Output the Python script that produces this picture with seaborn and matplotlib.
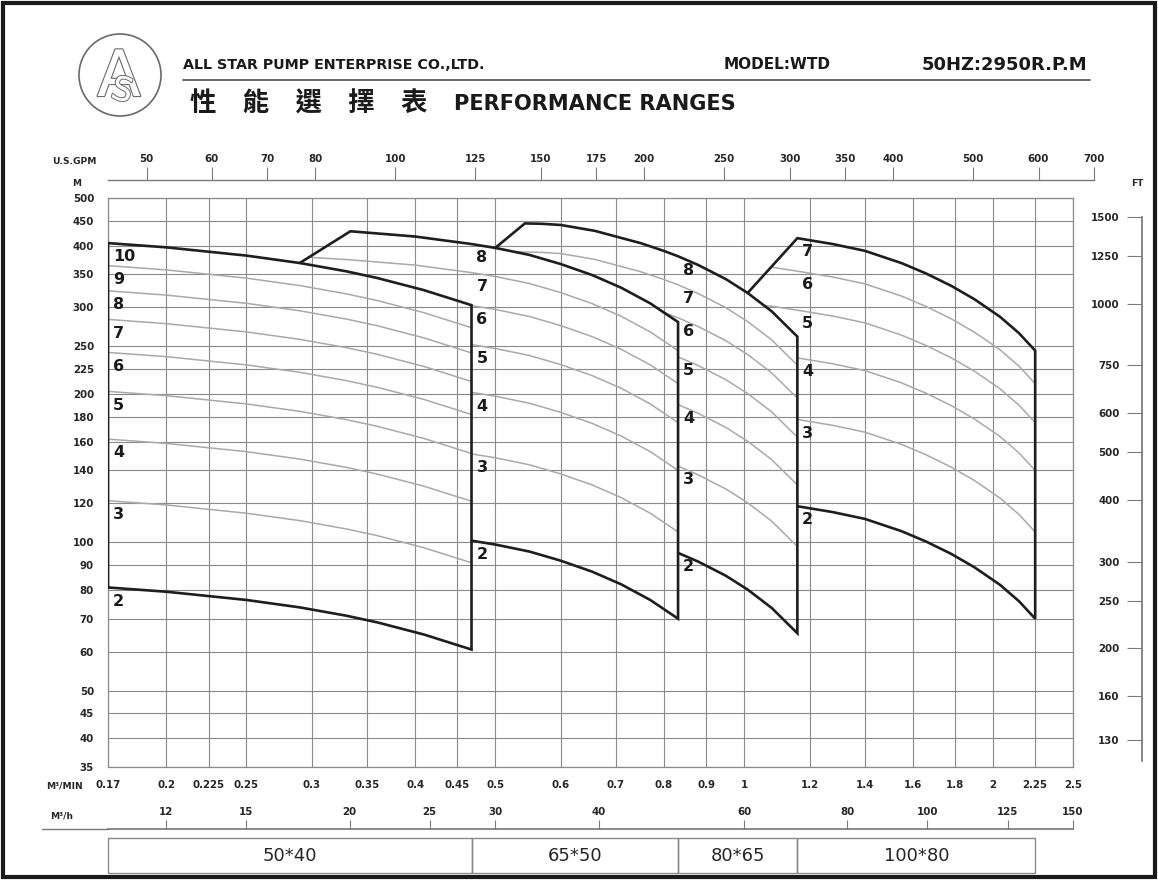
import numpy as np
import pandas as pd
import matplotlib
matplotlib.use("Agg")
import matplotlib.pyplot as plt
import seaborn as sns
from matplotlib.patches import Polygon, Rectangle, Circle
from matplotlib.lines import Line2D
from matplotlib.ticker import FixedLocator, FixedFormatter, NullLocator
from matplotlib.transforms import blended_transform_factory
import matplotlib.patheffects as pe

# ---------------- data ----------------
flow_ticks = [0.17, 0.2, 0.225, 0.25, 0.3, 0.35, 0.4, 0.45, 0.5, 0.6, 0.7, 0.8, 0.9,
              1, 1.2, 1.4, 1.6, 1.8, 2, 2.25, 2.5]
flow_labels = ["0.17", "0.2", "0.225", "0.25", "0.3", "0.35", "0.4", "0.45", "0.5", "0.6",
               "0.7", "0.8", "0.9", "1", "1.2", "1.4", "1.6", "1.8", "2", "2.25", "2.5"]
head_ticks = [35, 40, 45, 50, 60, 70, 80, 90, 100, 120, 140, 160, 180, 200, 225, 250,
              300, 350, 400, 450, 500]
gpm_ticks = [50, 60, 70, 80, 100, 125, 150, 175, 200, 250, 300, 350, 400, 500, 600, 700]
m3h_ticks = [12, 15, 20, 25, 30, 40, 60, 80, 100, 125, 150]
ft_ticks = [130, 160, 200, 250, 300, 400, 500, 600, 750, 1000, 1250, 1500]

pump_sizes = ["50*40", "65*50", "80*65", "100*80"]

# pump 50*40 : flow (m3/min) and head (m) for each number of stages
q_5040 = [0.17, 0.2, 0.25, 0.29, 0.33, 0.36, 0.41, 0.468]
h_5040 = {
    2: [81.0, 79.4, 76.4, 73.8, 71.0, 68.8, 65.0, 60.6],
    3: [121.5, 119.1, 114.6, 110.7, 106.5, 103.2, 97.5, 90.9],
    4: [162.0, 158.8, 152.8, 147.6, 142.0, 137.6, 130.0, 121.2],
    5: [202.5, 198.5, 191.0, 184.5, 177.5, 172.0, 162.5, 151.5],
    6: [243.0, 238.2, 229.2, 221.4, 213.0, 206.4, 195.0, 181.8],
    7: [283.5, 277.9, 267.4, 258.3, 248.5, 240.8, 227.5, 212.1],
    8: [324.0, 317.6, 305.6, 295.2, 284.0, 275.2, 260.0, 242.4],
    9: [364.5, 357.3, 343.8, 332.1, 319.5, 309.6, 292.5, 272.7],
    10: [405.0, 397.0, 382.0, 369.0, 355.0, 344.0, 325.0, 303.0],
}
# pump 65*50
q_6550 = [0.29, 0.334, 0.40, 0.468, 0.50, 0.55, 0.60, 0.655, 0.71, 0.77, 0.832]
h_6550 = {
    2: [108.6, 107.0, 104.4, 100.8, 99.0, 95.8, 91.8, 87.2, 82.2, 76.4, 70.0],
    3: [162.9, 160.5, 156.6, 151.2, 148.5, 143.7, 137.7, 130.8, 123.3, 114.6, 105.0],
    4: [217.2, 214.0, 208.8, 201.6, 198.0, 191.6, 183.6, 174.4, 164.4, 152.8, 140.0],
    5: [271.5, 267.5, 261.0, 252.0, 247.5, 239.5, 229.5, 218.0, 205.5, 191.0, 175.0],
    6: [325.8, 321.0, 313.2, 302.4, 297.0, 287.4, 275.4, 261.6, 246.6, 229.2, 210.0],
    7: [380.1, 374.5, 365.4, 352.8, 346.5, 335.3, 321.3, 305.2, 287.7, 267.4, 245.0],
    8: [434.4, 428.0, 417.6, 403.2, 396.0, 383.2, 367.2, 348.8, 328.8, 305.6, 280.0],
}
# pump 80*65
q_8065 = [0.50, 0.543, 0.57, 0.60, 0.66, 0.75, 0.80, 0.832, 0.88, 0.95, 1.01, 1.08, 1.16]
h_8065 = {
    2: [111.2, 111.0, 110.8, 110.2, 107.2, 101.2, 97.6, 95.2, 91.4, 85.6, 80.2, 73.6, 65.4],
    3: [166.8, 166.5, 166.2, 165.3, 160.8, 151.8, 146.4, 142.8, 137.1, 128.4, 120.3, 110.4, 98.1],
    4: [222.4, 222.0, 221.6, 220.4, 214.4, 202.4, 195.2, 190.4, 182.8, 171.2, 160.4, 147.2, 130.8],
    5: [278.0, 277.5, 277.0, 275.5, 268.0, 253.0, 244.0, 238.0, 228.5, 214.0, 200.5, 184.0, 163.5],
    6: [333.6, 333.0, 332.4, 330.6, 321.6, 303.6, 292.8, 285.6, 274.2, 256.8, 240.6, 220.8, 196.2],
    7: [389.2, 388.5, 387.8, 385.7, 375.2, 354.2, 341.6, 333.2, 319.9, 299.6, 280.7, 257.6, 228.9],
    8: [444.8, 444.0, 443.2, 440.8, 428.8, 404.8, 390.4, 380.8, 365.6, 342.4, 320.8, 294.4, 261.6],
}
# pump 100*80
q_10080 = [1.01, 1.08, 1.16, 1.28, 1.4, 1.55, 1.66, 1.78, 1.9, 2.04, 2.15, 2.25]
h_10080 = {
    2: [122.0, 120.6, 118.4, 115.2, 111.6, 105.4, 100.4, 94.8, 89.0, 82.0, 76.0, 70.0],
    3: [183.0, 180.9, 177.6, 172.8, 167.4, 158.1, 150.6, 142.2, 133.5, 123.0, 114.0, 105.0],
    4: [244.0, 241.2, 236.8, 230.4, 223.2, 210.8, 200.8, 189.6, 178.0, 164.0, 152.0, 140.0],
    5: [305.0, 301.5, 296.0, 288.0, 279.0, 263.5, 251.0, 237.0, 222.5, 205.0, 190.0, 175.0],
    6: [366.0, 361.8, 355.2, 345.6, 334.8, 316.2, 301.2, 284.4, 267.0, 246.0, 228.0, 210.0],
    7: [427.0, 422.1, 414.4, 403.2, 390.6, 368.9, 351.4, 331.8, 311.5, 287.0, 266.0, 245.0],
}
top_stage = [10, 8, 8, 7]
bottom_stage = [2, 2, 2, 2]
top_start_q = [0.17, 0.334, 0.543, 1.16]      # flow where the upper limit curve begins
diag_foot_q = [None, 0.29, 0.50, 1.01]        # flow where the slanted edge leaves previous envelope

GPM_PER_M3MIN = 264.172
M3H_PER_M3MIN = 60.0
FT_PER_M = 3.28084

pumps = []
for i, (q, h) in enumerate([(q_5040, h_5040), (q_6550, h_6550), (q_8065, h_8065), (q_10080, h_10080)]):
    pumps.append(dict(name=pump_sizes[i], q=q, h=h, top=top_stage[i], bottom=bottom_stage[i],
                      top_start=top_start_q[i], foot=diag_foot_q[i]))

# ---------------- style ----------------
sns.set_theme(style="white")
plt.rcParams["font.family"] = ["DejaVu Sans"]
CJK = ["Noto Sans CJK TC", "Noto Sans CJK SC", "DejaVu Sans"]
TXT = "#262626"
GRID = "#8a8a8a"
DARK = "#1e1e1e"
LIGHT = "#a9a9a9"
TICK_FS = 7.4

W_PX, H_PX = 1158, 880


def fx(x):
    return x / W_PX


def fy(y):
    return 1 - y / H_PX


fig = plt.figure(figsize=(W_PX / 100, H_PX / 100), dpi=100)
fig.patch.set_facecolor("white")

AX_L, AX_R, AX_T, AX_B = 108, 1073, 198, 767
ax = fig.add_axes([fx(AX_L), fy(AX_B), (AX_R - AX_L) / W_PX, (AX_B - AX_T) / H_PX])
ax.set_xscale("log")
ax.set_yscale("log")
ax.set_xlim(flow_ticks[0], flow_ticks[-1])
ax.set_ylim(head_ticks[0], head_ticks[-1])

# ---------------- curves ----------------
dark_rows = []
for i, p in enumerate(pumps):
    q, h = p["q"], p["h"]
    top_pts = [(a, b) for a, b in zip(q, h[p["top"]]) if a >= p["top_start"]]
    if i == 0:
        left = q[0]
        bot_pts = list(zip(q, h[p["bottom"]]))
        verts = top_pts + bot_pts[::-1]
        outline = [bot_pts[0]] + top_pts + bot_pts[::-1]
    else:
        prev = pumps[i - 1]
        left = prev["q"][-1]
        foot = (p["foot"], prev["h"][prev["top"]][prev["q"].index(p["foot"])])
        bot_pts = [(a, b) for a, b in zip(q, h[p["bottom"]]) if a >= left]
        prev_top = [(a, b) for a, b in zip(prev["q"], prev["h"][prev["top"]]) if p["foot"] < a <= left]
        verts = [foot] + top_pts + bot_pts[::-1] + prev_top[::-1]
        outline = [foot] + top_pts + bot_pts[::-1]
    clip = Polygon(verts, closed=True, transform=ax.transData, facecolor="none", edgecolor="none")
    grey = pd.DataFrame([(n, a, b) for n in range(p["bottom"] + 1, p["top"])
                         for a, b in zip(q, h[n])], columns=["stage", "q", "h"])
    n0 = len(ax.lines)
    sns.lineplot(data=grey, x="q", y="h", units="stage", estimator=None, sort=False,
                 color=LIGHT, lw=1.1, legend=False, ax=ax)
    for ln in ax.lines[n0:]:
        ln.set_clip_path(clip)
        ln.set_zorder(2)
    for k_, (a, b) in enumerate(outline):
        dark_rows.append((p["name"], k_, a, b))
    p["left"] = left

dark = pd.DataFrame(dark_rows, columns=["pump", "order", "q", "h"])
n0 = len(ax.lines)
sns.lineplot(data=dark, x="q", y="h", units="pump", estimator=None, sort=False,
             color=DARK, lw=1.9, legend=False, ax=ax)
for ln in ax.lines[n0:]:
    ln.set_zorder(4)
    ln.set_solid_joinstyle("miter")

# stage labels
for p in pumps:
    idx = p["q"].index(p["left"])
    for n in range(p["bottom"], p["top"] + 1):
        ax.annotate(str(n), (p["left"], p["h"][n][idx]), xytext=(3.5, -4.5),
                    textcoords="offset points", ha="left", va="top",
                    fontsize=11.5, fontweight="bold", color="#1a1a1a", zorder=5)

# ---------------- main axes styling ----------------
ax.xaxis.set_major_locator(FixedLocator(flow_ticks))
ax.xaxis.set_major_formatter(FixedFormatter(flow_labels))
ax.xaxis.set_minor_locator(NullLocator())
ax.yaxis.set_major_locator(FixedLocator(head_ticks))
ax.yaxis.set_major_formatter(FixedFormatter([str(t) for t in head_ticks]))
ax.yaxis.set_minor_locator(NullLocator())
ax.grid(True, which="major", color=GRID, lw=0.8)
ax.set_axisbelow(True)
ax.set_xlabel("")
ax.set_ylabel("")
for s in ax.spines.values():
    s.set_color(GRID)
    s.set_linewidth(0.9)
ax.tick_params(axis="both", length=0, labelsize=TICK_FS, labelcolor=TXT)
ax.tick_params(axis="x", pad=9)
ax.tick_params(axis="y", pad=10)
for t in ax.get_xticklabels() + ax.get_yticklabels():
    t.set_fontweight("bold")

# ---------------- top US GPM axis ----------------
span = np.log10(flow_ticks[-1] / flow_ticks[0])
w_gpm = (AX_R - AX_L) / W_PX * np.log10(gpm_ticks[-1] / (flow_ticks[0] * GPM_PER_M3MIN)) / span
axg = fig.add_axes([fx(AX_L), fy(180), w_gpm, 1e-5])
axg.set_xscale("log")
axg.set_xlim(flow_ticks[0] * GPM_PER_M3MIN, gpm_ticks[-1])
axg.xaxis.set_major_locator(FixedLocator(gpm_ticks))
axg.xaxis.set_major_formatter(FixedFormatter([str(t) for t in gpm_ticks]))
axg.xaxis.set_minor_locator(NullLocator())
axg.set_yticks([])
axg.patch.set_visible(False)
for s in ["left", "right", "bottom"]:
    axg.spines[s].set_visible(False)
axg.spines["top"].set_color("#7a7a7a")
axg.spines["top"].set_linewidth(1.0)
axg.xaxis.set_ticks_position("top")
axg.tick_params(axis="x", direction="out", length=9.5, width=0.8, color="#7a7a7a",
                pad=2, labelsize=TICK_FS, labelcolor=TXT)
for t in axg.get_xticklabels():
    t.set_fontweight("bold")

# ---------------- bottom m3/h axis ----------------
axh = fig.add_axes([fx(AX_L), fy(829), (AX_R - AX_L) / W_PX, 1e-5])
axh.set_xscale("log")
axh.set_xlim(flow_ticks[0] * M3H_PER_M3MIN, flow_ticks[-1] * M3H_PER_M3MIN)
axh.xaxis.set_major_locator(FixedLocator(m3h_ticks))
axh.xaxis.set_major_formatter(FixedFormatter([str(t) for t in m3h_ticks]))
axh.xaxis.set_minor_locator(NullLocator())
axh.set_yticks([])
axh.patch.set_visible(False)
for s in ["left", "right", "bottom"]:
    axh.spines[s].set_visible(False)
axh.spines["top"].set_color("#7a7a7a")
axh.xaxis.set_ticks_position("top")
axh.tick_params(axis="x", direction="out", length=6.5, width=0.8, color="#7a7a7a",
                pad=2, labelsize=TICK_FS, labelcolor=TXT)
for t in axh.get_xticklabels():
    t.set_fontweight("bold")
fig.add_artist(Line2D([fx(42), fx(AX_L)], [fy(829), fy(829)], transform=fig.transFigure,
                      color="#7a7a7a", lw=1.0))

# ---------------- right FT axis ----------------
axf = fig.add_axes([fx(1142), fy(AX_B), 1e-5, (AX_B - AX_T) / H_PX])
axf.set_yscale("log")
axf.set_ylim(head_ticks[0] * FT_PER_M, head_ticks[-1] * FT_PER_M)
axf.yaxis.set_major_locator(FixedLocator(ft_ticks))
axf.yaxis.set_major_formatter(FixedFormatter([str(t) for t in ft_ticks]))
axf.yaxis.set_minor_locator(NullLocator())
axf.set_xticks([])
axf.patch.set_visible(False)
for s in ["right", "top", "bottom"]:
    axf.spines[s].set_visible(False)
axf.spines["left"].set_color("#7a7a7a")
axf.spines["left"].set_bounds(118, ft_ticks[-1])
axf.yaxis.set_ticks_position("left")
axf.tick_params(axis="y", direction="out", length=11, width=0.8, color="#7a7a7a",
                pad=5, labelsize=TICK_FS, labelcolor=TXT)
for t in axf.get_yticklabels():
    t.set_fontweight("bold")

# axis unit captions
fig.text(fx(77), fy(183), "M", ha="center", va="center", fontsize=6.5, fontweight="bold", color=TXT)
fig.text(fx(1137), fy(183), "FT", ha="center", va="center", fontsize=6.5, fontweight="bold", color=TXT)
fig.text(fx(52), fy(161), "U.S.GPM", ha="left", va="center", fontsize=6.6, fontweight="bold", color=TXT)
fig.text(fx(46), fy(786), "M\u00b3/MIN", ha="left", va="center", fontsize=6.6, fontweight="bold", color=TXT)
fig.text(fx(50), fy(816), "M\u00b3/h", ha="left", va="center", fontsize=6.6, fontweight="bold", color=TXT)

# ---------------- pump size boxes ----------------
trans = blended_transform_factory(ax.transData, fig.transFigure)
edges = [flow_ticks[0]] + [p["q"][-1] for p in pumps]
for i, name in enumerate(pump_sizes):
    x0, x1 = edges[i], edges[i + 1]
    fig.add_artist(Rectangle((x0, fy(873)), x1 - x0, fy(838) - fy(873), transform=trans,
                             fill=False, ec=GRID, lw=1.0))
    fig.text(np.sqrt(x0 * x1), fy(856), name, transform=trans, ha="center", va="center",
             fontsize=13, color=TXT)

# ---------------- header ----------------
fig.add_artist(Circle((1.20, (H_PX - 75) / 100), 0.41, transform=fig.dpi_scale_trans,
                      fill=False, ec="#6a6a6a", lw=1.2))
fig.text(fx(119), fy(78), "A", ha="center", va="center", fontsize=46, color="white",
         path_effects=[pe.withStroke(linewidth=1.6, foreground="#6a6a6a")])
fig.text(fx(122), fy(91), "S", ha="center", va="center", fontsize=24, color="white", rotation=-15,
         path_effects=[pe.withStroke(linewidth=1.4, foreground="#6a6a6a")])

fig.text(fx(183), fy(69), "ALL STAR PUMP ENTERPRISE CO.,LTD.", ha="left", va="baseline",
         fontsize=10.3, fontweight="bold", color="#1a1a1a")
fig.text(fx(724), fy(69), "MODEL:WTD", ha="left", va="baseline", fontsize=11,
         fontweight="bold", color="#1a1a1a")
fig.text(fx(922), fy(70), "50HZ:2950R.P.M", ha="left", va="baseline", fontsize=13,
         fontweight="bold", color="#1a1a1a")
fig.add_artist(Line2D([fx(183), fx(1090)], [fy(80), fy(80)], transform=fig.transFigure,
                      color="#5a5a5a", lw=1.3))
fig.text(fx(190), fy(112), "\u6027\u3000\u80fd\u3000\u9078\u3000\u64c7\u3000\u8868", ha="left",
         va="baseline", fontsize=19, fontweight="bold", family=CJK, color="#1a1a1a")
fig.text(fx(454), fy(110), "PERFORMANCE RANGES", ha="left", va="baseline",
         fontsize=15.1, fontweight="bold", color="#1a1a1a")

# outer frame
fig.add_artist(Rectangle((fx(3), fy(877)), fx(1155) - fx(3), fy(3) - fy(877),
                         transform=fig.transFigure, fill=False, ec="#1a1a1a", lw=3))

fig.savefig("out.png", dpi=100, facecolor="white")
